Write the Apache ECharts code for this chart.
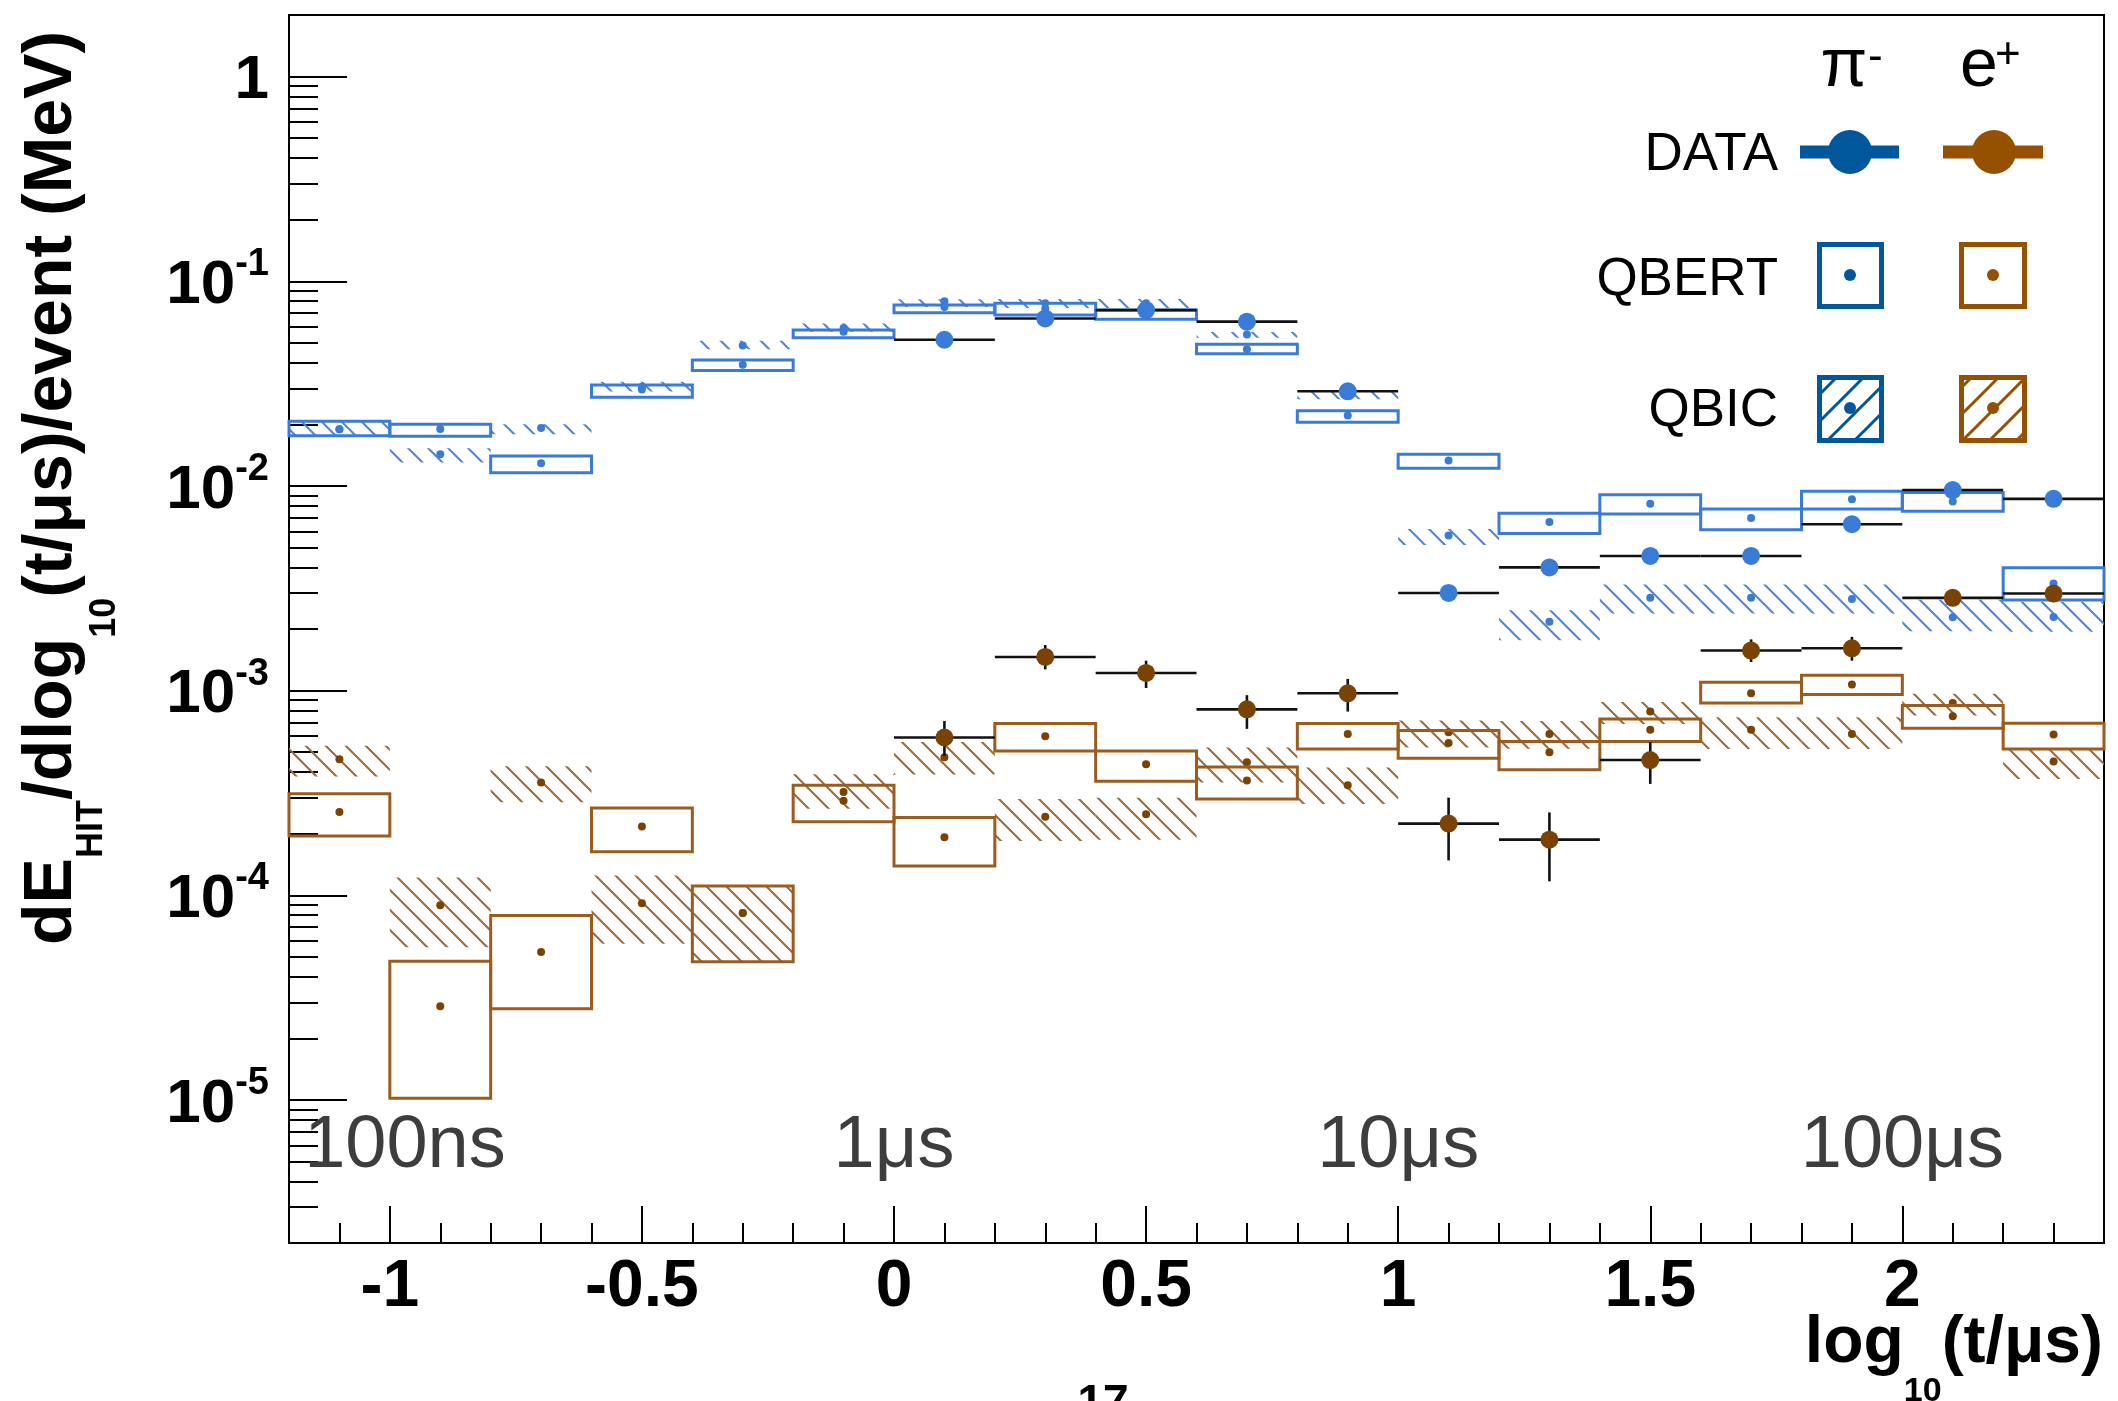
<!DOCTYPE html>
<html>
<head>
<meta charset="utf-8">
<script src="https://cdn.jsdelivr.net/npm/echarts@6/dist/echarts.min.js"></script>
<style>
  html, body { margin: 0; padding: 0; background: #fff; }
  #chart { width: 2118px; height: 1401px; }
</style>
</head>
<body>
<div id="chart"></div>
<script>
// bin centres in log10(t/us), bins are 0.2 wide
const bins = [-1.1, -0.9, -0.7, -0.5, -0.3, -0.1, 0.1, 0.3, 0.5, 0.7, 0.9, 1.1, 1.3, 1.5, 1.7, 1.9, 2.1, 2.3]
const binWidth = 0.2

// measured points start at 0.1
const dataBins = [0.1, 0.3, 0.5, 0.7, 0.9, 1.1, 1.3, 1.5, 1.7, 1.9, 2.1, 2.3]

// pi- DATA
const piData = [0.0518, 0.0658, 0.0723, 0.0635, 0.0290, 0.00300, 0.00400, 0.00455, 0.00455, 0.00650, 0.00955, 0.00865]
const piDataLo = [0.0505, 0.0642, 0.0705, 0.0620, 0.0283, 0.00292, 0.00390, 0.00444, 0.00444, 0.00634, 0.00932, 0.00844]
const piDataHi = [0.0531, 0.0674, 0.0741, 0.0650, 0.0297, 0.00308, 0.00410, 0.00466, 0.00466, 0.00666, 0.00978, 0.00886]

// e+ DATA
const eData = [5.9e-4, 1.46e-3, 1.22e-3, 8.1e-4, 9.7e-4, 2.24e-4, 1.87e-4, 4.58e-4, 1.57e-3, 1.61e-3, 2.84e-3, 2.98e-3]
const eDataLo = [4.8e-4, 1.27e-3, 1.03e-3, 6.5e-4, 7.9e-4, 1.48e-4, 1.17e-4, 3.5e-4, 1.38e-3, 1.40e-3, 2.72e-3, 2.86e-3]
const eDataHi = [7.1e-4, 1.67e-3, 1.40e-3, 9.5e-4, 1.14e-3, 3.0e-4, 2.54e-4, 5.6e-4, 1.78e-3, 1.83e-3, 2.96e-3, 3.10e-3]

// pi- QBERT (open boxes)
const piQbert = [0.0189, 0.0190, 0.0129, 0.0296, 0.0391, 0.0566, 0.0749, 0.0735, 0.0690, 0.0465, 0.0221, 0.0133, 0.00667, 0.00819, 0.00697, 0.00861, 0.00840, 0.00334]
const piQbertLo = [0.0176, 0.0175, 0.0116, 0.0271, 0.0367, 0.0530, 0.0702, 0.0685, 0.0652, 0.0442, 0.0205, 0.0122, 0.00585, 0.00729, 0.00611, 0.00771, 0.00752, 0.00277]
const piQbertHi = [0.0207, 0.0200, 0.0140, 0.0311, 0.0412, 0.0578, 0.0765, 0.0780, 0.0723, 0.0492, 0.0233, 0.0143, 0.00736, 0.00906, 0.00771, 0.00942, 0.00929, 0.00398]

// pi- QBIC (hatched)
const piQbic = [0.0189, 0.0143, 0.0192, 0.0305, 0.0486, 0.0591, 0.0799, 0.0780, 0.0780, 0.0550, 0.0280, 0.00573, 0.00217, 0.00284, 0.00284, 0.00280, 0.00228, 0.00229]
const piQbicLo = [0.0176, 0.0130, 0.0179, 0.0289, 0.0465, 0.0566, 0.0748, 0.0740, 0.0740, 0.0530, 0.0265, 0.00514, 0.00176, 0.00238, 0.00238, 0.00238, 0.00195, 0.00194]
const piQbicHi = [0.0207, 0.0153, 0.0200, 0.0323, 0.0512, 0.0622, 0.0816, 0.0820, 0.0820, 0.0565, 0.0292, 0.00616, 0.00247, 0.00330, 0.00330, 0.00330, 0.00278, 0.00272]

// e+ QBERT (open boxes)
const eQbert = [2.55e-4, 2.87e-5, 5.28e-5, 2.17e-4, 8.2e-5, 2.9e-4, 1.92e-4, 5.98e-4, 4.37e-4, 3.64e-4, 6.14e-4, 5.55e-4, 5.0e-4, 6.43e-4, 9.72e-4, 1.07e-3, 7.5e-4, 6.1e-4]
const eQbertLo = [1.95e-4, 1.02e-5, 2.79e-5, 1.63e-4, 4.74e-5, 2.29e-4, 1.39e-4, 5.07e-4, 3.61e-4, 2.95e-4, 5.19e-4, 4.67e-4, 4.11e-4, 5.64e-4, 8.69e-4, 9.58e-4, 6.55e-4, 5.19e-4]
const eQbertHi = [3.13e-4, 4.76e-5, 7.96e-5, 2.67e-4, 1.11e-4, 3.45e-4, 2.40e-4, 6.9e-4, 5.07e-4, 4.23e-4, 6.9e-4, 6.38e-4, 5.64e-4, 7.27e-4, 1.10e-3, 1.19e-3, 8.45e-4, 6.92e-4]

// e+ QBIC (hatched)
const eQbic = [4.62e-4, 8.95e-5, 3.56e-4, 9.15e-5, 8.2e-5, 3.2e-4, 4.72e-4, 2.42e-4, 2.49e-4, 4.47e-4, 3.45e-4, 6.26e-4, 6.14e-4, 7.91e-4, 6.43e-4, 6.14e-4, 8.71e-4, 4.5e-4]
const eQbicLo = [3.80e-4, 5.57e-5, 2.85e-4, 5.8e-5, 4.74e-5, 2.65e-4, 3.89e-4, 1.84e-4, 1.87e-4, 3.56e-4, 2.79e-4, 5.28e-4, 5.2e-4, 6.87e-4, 5.19e-4, 5.19e-4, 7.55e-4, 3.7e-4]
const eQbicHi = [5.38e-4, 1.22e-4, 4.27e-4, 1.25e-4, 1.11e-4, 3.9e-4, 5.61e-4, 2.95e-4, 3.0e-4, 5.28e-4, 4.21e-4, 7.14e-4, 7.1e-4, 8.79e-4, 7.41e-4, 7.41e-4, 9.64e-4, 5.19e-4]

// time markers drawn inside the frame
const timeLabels = ['100ns', '1μs', '10μs', '100μs']
const timeLabelX = [-0.97, 0, 1, 2]
const timeLabelY = 5.9e-6

// ticks
const xMajor = [-1, -0.5, 0, 0.5, 1, 1.5, 2]
const xMinor = [-1.1, -0.9, -0.8, -0.7, -0.6, -0.4, -0.3, -0.2, -0.1, 0.1, 0.2, 0.3, 0.4, 0.6, 0.7, 0.8, 0.9,
  1.1, 1.2, 1.3, 1.4, 1.6, 1.7, 1.8, 1.9, 2.1, 2.2, 2.3]
const yMajor = [1e-5, 1e-4, 1e-3, 1e-2, 1e-1, 1]
const yMinor = []
for (let e = -6; e <= 0; e++) {
  for (let k = 2; k <= 9; k++) {
    const v = k * Math.pow(10, e)
    if (v >= 2e-6 && v <= 2.0001) yMinor.push(v)
  }
}

const FONT = '"Liberation Sans", Arial, Helvetica, sans-serif'
const plotBlue = '#3a7bd8'
const hatchBlue = '#4a86dc'
const boxBrown = '#9b5c1e'
const hatchBrown = '#9c6a36'
const dotBrown = '#7a4303'
const legBlue = '#00579b'
const legBrown = '#955000'

function hatchTile(color, size, back, width) {
  const c = document.createElement('canvas')
  c.width = size
  c.height = size
  const g = c.getContext('2d')
  g.strokeStyle = color
  g.lineWidth = width
  g.beginPath()
  if (back) {
    g.moveTo(-3, -3); g.lineTo(size + 3, size + 3)
    g.moveTo(-3, size - 3); g.lineTo(3, size + 3)
    g.moveTo(size - 3, -3); g.lineTo(size + 3, 3)
  } else {
    g.moveTo(-3, size + 3); g.lineTo(size + 3, -3)
    g.moveTo(-3, 3); g.lineTo(3, -3)
    g.moveTo(size - 3, size + 3); g.lineTo(size + 3, size - 3)
  }
  g.stroke()
  return { image: c, repeat: 'repeat' }
}

const piHatch = hatchTile(hatchBlue, 20, true, 2)
const eHatch = hatchTile(hatchBrown, 20, true, 2)
const legPiHatch = hatchTile(legBlue, 27, false, 3)
const legEHatch = hatchTile(legBrown, 27, false, 3)

function rows(xs, c, lo, hi) {
  return xs.map((x, i) => [x, c[i], lo[i], hi[i]])
}

function bandRenderer(fill, stroke, dotColor) {
  return function(params, api) {
    const x = api.value(0)
    const p1 = api.coord([x - binWidth / 2, api.value(3)])
    const p2 = api.coord([x + binWidth / 2, api.value(2)])
    const c = api.coord([x, api.value(1)])
    return {
      type: 'group',
      children: [
        {
          type: 'rect',
          shape: { x: p1[0], y: p1[1], width: p2[0] - p1[0], height: p2[1] - p1[1] },
          style: { fill: fill, stroke: stroke || null, lineWidth: stroke ? 3 : 0 }
        },
        { type: 'circle', shape: { cx: c[0], cy: c[1], r: 4 }, style: { fill: dotColor } }
      ]
    }
  }
}

function dataRenderer(dotColor) {
  return function(params, api) {
    const x = api.value(0)
    const left = api.coord([x - binWidth / 2, api.value(1)])
    const right = api.coord([x + binWidth / 2, api.value(1)])
    const lo = api.coord([x, api.value(2)])
    const hi = api.coord([x, api.value(3)])
    const c = api.coord([x, api.value(1)])
    const bar = { stroke: '#111', lineWidth: 2.6 }
    return {
      type: 'group',
      children: [
        { type: 'line', shape: { x1: left[0], y1: left[1], x2: right[0], y2: right[1] }, style: bar },
        { type: 'line', shape: { x1: lo[0], y1: lo[1], x2: hi[0], y2: hi[1] }, style: bar },
        { type: 'circle', shape: { cx: c[0], cy: c[1], r: 9 }, style: { fill: dotColor } }
      ]
    }
  }
}

function timeRenderer(params, api) {
  const p = api.coord([api.value(0), api.value(1)])
  return {
    type: 'text',
    x: p[0],
    y: p[1],
    style: {
      text: timeLabels[params.dataIndex],
      fontSize: 74,
      fontFamily: FONT,
      fill: '#3d3d3d',
      align: 'center',
      verticalAlign: 'middle'
    }
  }
}

const chart = echarts.init(document.getElementById('chart'))

const legendText = (text, x, y) => ({
  type: 'text', x: x, y: y,
  style: { text: text, fontSize: 53, fontFamily: FONT, fill: '#000', align: 'right', verticalAlign: 'middle' }
})

const option = {
  animation: false,
  backgroundColor: '#fff',
  grid: {
    show: true,
    left: 289,
    top: 15,
    width: 1815,
    height: 1228,
    borderColor: '#000',
    borderWidth: 2,
    containLabel: false,
    outerBoundsMode: 'none'
  },
  xAxis: [{
    type: 'value',
    min: -1.2,
    max: 2.4,
    position: 'bottom',
    axisLine: { show: true, onZero: false, lineStyle: { color: '#000', width: 2 } },
    axisTick: { show: true, inside: true, length: 37, customValues: xMajor, lineStyle: { color: '#000', width: 2 } },
    axisLabel: {
      customValues: xMajor,
      formatter: v => String(v),
      fontSize: 66,
      fontWeight: 'bold',
      fontFamily: FONT,
      color: '#000',
      margin: 12
    },
    splitLine: { show: false }
  }, {
    type: 'value',
    min: -1.2,
    max: 2.4,
    position: 'bottom',
    axisLine: { show: false, onZero: false },
    axisTick: { show: true, inside: true, length: 20, customValues: xMinor, lineStyle: { color: '#000', width: 2 } },
    axisLabel: { show: false },
    splitLine: { show: false }
  }],
  yAxis: [{
    type: 'log',
    logBase: 10,
    min: 2e-6,
    max: 2,
    position: 'left',
    axisLine: { show: true, onZero: false, lineStyle: { color: '#000', width: 2 } },
    axisTick: { show: true, inside: true, length: 58, customValues: yMajor, lineStyle: { color: '#000', width: 2 } },
    axisLabel: {
      customValues: yMajor,
      margin: 20,
      formatter: function(v) {
        const e = Math.round(Math.log10(v))
        if (e === 0) return '{m|1}'
        return '{m|10}{s|' + e + '}'
      },
      rich: {
        m: { fontSize: 62, fontWeight: 'bold', fontFamily: FONT, color: '#000', verticalAlign: 'top', padding: [9, 0, 0, 0] },
        s: { fontSize: 38, fontWeight: 'bold', fontFamily: FONT, color: '#000', verticalAlign: 'top' }
      }
    },
    splitLine: { show: false }
  }, {
    type: 'log',
    logBase: 10,
    min: 2e-6,
    max: 2,
    position: 'left',
    axisLine: { show: false, onZero: false },
    axisTick: { show: true, inside: true, length: 29, customValues: yMinor, lineStyle: { color: '#000', width: 2 } },
    axisLabel: { show: false },
    splitLine: { show: false }
  }],
  series: [
    {
      name: 'pi QBIC', type: 'custom', silent: true,
      data: rows(bins, piQbic, piQbicLo, piQbicHi),
      renderItem: bandRenderer(piHatch, null, plotBlue), z: 2
    },
    {
      name: 'e QBIC', type: 'custom', silent: true,
      data: rows(bins, eQbic, eQbicLo, eQbicHi),
      renderItem: bandRenderer(eHatch, null, dotBrown), z: 2
    },
    {
      name: 'pi QBERT', type: 'custom', silent: true,
      data: rows(bins, piQbert, piQbertLo, piQbertHi),
      renderItem: bandRenderer('none', plotBlue, plotBlue), z: 3
    },
    {
      name: 'e QBERT', type: 'custom', silent: true,
      data: rows(bins, eQbert, eQbertLo, eQbertHi),
      renderItem: bandRenderer('none', boxBrown, dotBrown), z: 3
    },
    {
      name: 'pi DATA', type: 'custom', silent: true,
      data: rows(dataBins, piData, piDataLo, piDataHi),
      renderItem: dataRenderer(plotBlue), z: 4
    },
    {
      name: 'e DATA', type: 'custom', silent: true,
      data: rows(dataBins, eData, eDataLo, eDataHi),
      renderItem: dataRenderer(dotBrown), z: 4
    },
    {
      name: 'time', type: 'custom', silent: true,
      data: timeLabelX.map(x => [x, timeLabelY]),
      renderItem: timeRenderer, z: 5
    }
  ],
  graphic: [
    // y title
    {
      type: 'text', x: 18, y: 945, rotation: Math.PI / 2,
      style: {
        text: '{m|dE}{a|HIT}{m|/dlog}{b|10}{m|(t/μs)/event (MeV)}',
        align: 'left', verticalAlign: 'top', fill: '#000',
        rich: {
          m: { fontSize: 68, fontWeight: 'bold', fontFamily: FONT, verticalAlign: 'top' },
          a: { fontSize: 36, fontWeight: 'bold', fontFamily: FONT, verticalAlign: 'top', padding: [56, 0, 0, 0] },
          b: { fontSize: 36, fontWeight: 'bold', fontFamily: FONT, verticalAlign: 'top', padding: [69, 0, 0, 0] }
        }
      }
    },
    // x title
    {
      type: 'text', x: 2103, y: 1311,
      style: {
        text: '{m|log}{b|10}{m|(t/μs)}',
        align: 'right', verticalAlign: 'top', fill: '#000',
        rich: {
          m: { fontSize: 66, fontWeight: 'bold', fontFamily: FONT, verticalAlign: 'top' },
          b: { fontSize: 34, fontWeight: 'bold', fontFamily: FONT, verticalAlign: 'top', padding: [64, 0, 0, 0] }
        }
      }
    },
    // page number cut by the bottom edge
    {
      type: 'text', x: 1103, y: 1381,
      style: { text: '17', fontSize: 46, fontWeight: 'bold', fontFamily: FONT, fill: '#000', align: 'center', verticalAlign: 'top' }
    },
    // legend header
    { type: 'text', x: 1844, y: 67, style: { text: 'π', fontSize: 68, fontFamily: FONT, fill: '#000', align: 'center', verticalAlign: 'middle' } },
    { type: 'text', x: 1868, y: 58, style: { text: '-', fontSize: 44, fontFamily: FONT, fill: '#000', align: 'left', verticalAlign: 'middle' } },
    { type: 'text', x: 1979, y: 67, style: { text: 'e', fontSize: 68, fontFamily: FONT, fill: '#000', align: 'center', verticalAlign: 'middle' } },
    { type: 'text', x: 1995, y: 56, style: { text: '+', fontSize: 44, fontFamily: FONT, fill: '#000', align: 'left', verticalAlign: 'middle' } },
    legendText('DATA', 1778, 155),
    legendText('QBERT', 1778, 280),
    legendText('QBIC', 1778, 411),
    // DATA markers
    { type: 'rect', shape: { x: 1800, y: 145.5, width: 99, height: 13 }, style: { fill: legBlue } },
    { type: 'circle', shape: { cx: 1850, cy: 152, r: 22 }, style: { fill: legBlue } },
    { type: 'rect', shape: { x: 1943, y: 145.5, width: 100, height: 13 }, style: { fill: legBrown } },
    { type: 'circle', shape: { cx: 1994, cy: 152, r: 22 }, style: { fill: legBrown } },
    // QBERT markers
    { type: 'rect', shape: { x: 1819.5, y: 244.5, width: 62, height: 62 }, style: { fill: 'none', stroke: legBlue, lineWidth: 5 } },
    { type: 'circle', shape: { cx: 1850, cy: 275, r: 6 }, style: { fill: legBlue } },
    { type: 'rect', shape: { x: 1961.5, y: 244.5, width: 63, height: 62 }, style: { fill: 'none', stroke: legBrown, lineWidth: 5 } },
    { type: 'circle', shape: { cx: 1993, cy: 275, r: 6 }, style: { fill: legBrown } },
    // QBIC markers
    { type: 'rect', shape: { x: 1819.5, y: 377.5, width: 62, height: 63 }, style: { fill: legPiHatch, stroke: legBlue, lineWidth: 5 } },
    { type: 'circle', shape: { cx: 1850, cy: 408, r: 6 }, style: { fill: legBlue } },
    { type: 'rect', shape: { x: 1961.5, y: 377.5, width: 63, height: 63 }, style: { fill: legEHatch, stroke: legBrown, lineWidth: 5 } },
    { type: 'circle', shape: { cx: 1993, cy: 408, r: 6 }, style: { fill: legBrown } }
  ]
}

chart.setOption(option)
</script>
</body>
</html>
